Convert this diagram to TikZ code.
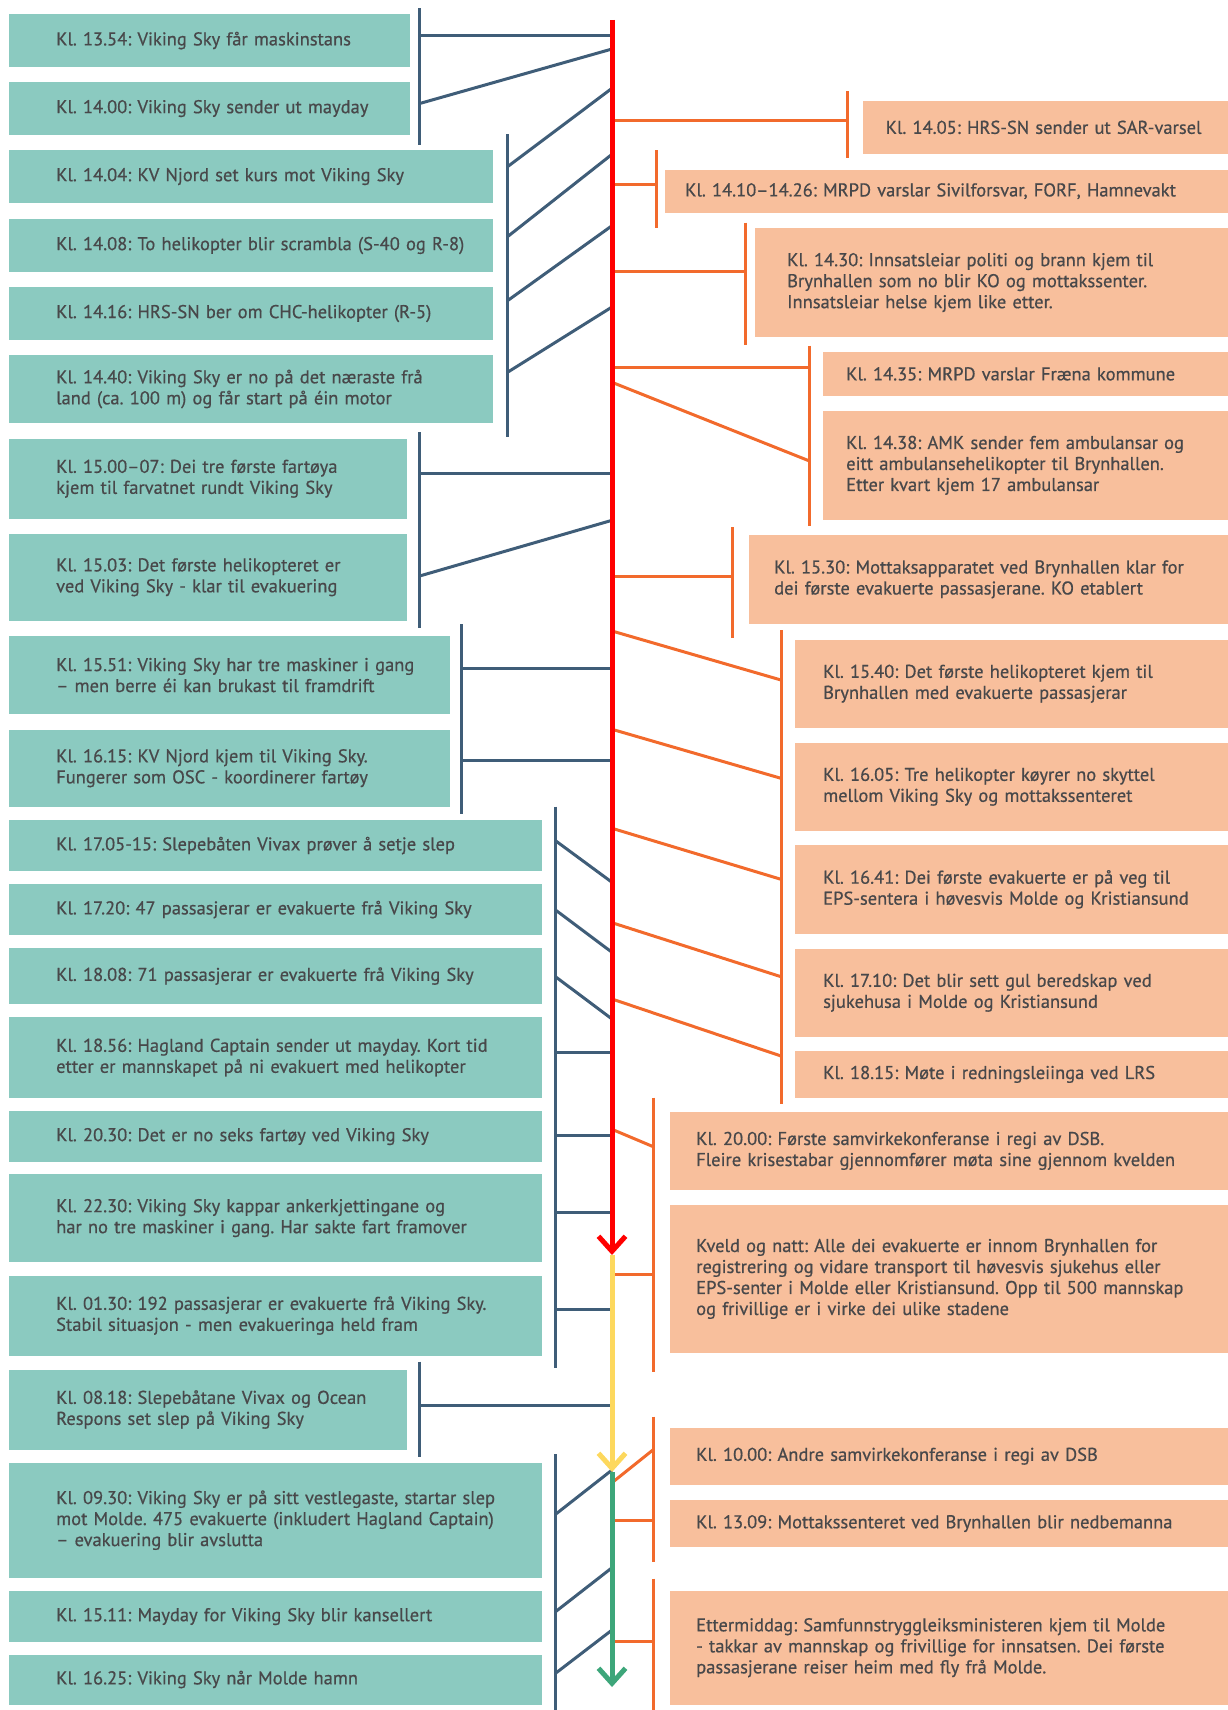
\documentclass[tikz,border=0pt]{standalone}
\usepackage{fontspec}
\setmainfont[FakeBold=0.6]{PT Sans}
\usetikzlibrary{arrows.meta}

\definecolor{shipfill}{HTML}{8BCAC0}
\definecolor{landfill}{HTML}{F8BF9C}
\definecolor{shipblue}{HTML}{3F5D78}
\definecolor{landorange}{HTML}{F26A2C}
\definecolor{ink}{HTML}{48484A}
\definecolor{timered}{HTML}{FF0000}
\definecolor{timeyellow}{HTML}{FDD85D}
\definecolor{timegreen}{HTML}{3DA67A}

\tikzstyle{eventbox}=[anchor=north west, inner sep=0pt, align=left, text=ink, font=\fontsize{18.5}{21}\selectfont\frenchspacing]
\tikzstyle{shipbox}=[eventbox, fill=shipfill, execute at begin node={\leftskip=47pt\relax}]
\tikzstyle{landbox}=[eventbox, fill=landfill]
\tikzstyle{shipline}=[draw=shipblue, line width=3pt]
\tikzstyle{landline}=[draw=landorange, line width=3pt]
\tikzstyle{timeline}=[line width=5pt, -{Straight Barb[length=15pt,width=27pt]}]

% ship side: name, top, bottom, right edge, text
\newcommand{\shipevent}[5]{
\pgfmathsetmacro{\bw}{#4-9}
\pgfmathsetmacro{\bh}{#3-#2}
\node[shipbox, text width=\bw pt, minimum height=\bh pt] (#1) at (9,#2) {#5};
}
% land side: name, left edge, top, bottom, text indent, text
\newcommand{\landevent}[6]{
\pgfmathsetmacro{\bw}{1228-#2}
\pgfmathsetmacro{\bh}{#4-#3}
\node[landbox, text width=\bw pt, minimum height=\bh pt, execute at begin node={\leftskip=#5pt\relax}] (#1) at (#2,#3) {#6};
}

\begin{document}
\begin{tikzpicture}[x=1pt,y=-1pt]
\useasboundingbox (0,0) rectangle (1228,1710);

% events at sea
\shipevent{e1354}{14}{66.7}{410}{Kl. 13.54: Viking Sky får maskinstans}
\shipevent{e1400}{82}{134.7}{410}{Kl. 14.00: Viking Sky sender ut mayday}
\shipevent{e1404}{150}{202.7}{492.5}{Kl. 14.04: KV Njord set kurs mot Viking Sky}
\shipevent{e1408}{219}{271.7}{492.5}{Kl. 14.08: To helikopter blir scrambla (S-40 og R-8)}
\shipevent{e1416}{287}{339.7}{492.5}{Kl. 14.16: HRS-SN ber om CHC-helikopter (R-5)}
\shipevent{e1440}{355}{422.7}{492.5}{Kl. 14.40: Viking Sky er no på det næraste frå\\land (ca. 100 m) og får start på éin motor}
\shipevent{e1500}{438.3}{518.7}{407}{Kl. 15.00–07: Dei tre første fartøya\\kjem til farvatnet rundt Viking Sky}
\shipevent{e1503}{533.3}{620.7}{407}{Kl. 15.03: Det første helikopteret er\\ved Viking Sky - klar til evakuering}
\shipevent{e1551}{636}{713.7}{450}{Kl. 15.51: Viking Sky har tre maskiner i gang\\– men berre éi kan brukast til framdrift}
\shipevent{e1615}{729.3}{806.7}{450}{Kl. 16.15: KV Njord kjem til Viking Sky.\\Fungerer som OSC - koordinerer fartøy}
\shipevent{e1705}{820}{870.7}{541.5}{Kl. 17.05-15: Slepebåten Vivax prøver å setje slep}
\shipevent{e1720}{884}{934.7}{541.5}{Kl. 17.20: 47 passasjerar er evakuerte frå Viking Sky}
\shipevent{e1808}{948}{1003.7}{541.5}{Kl. 18.08: 71 passasjerar er evakuerte frå Viking Sky}
\shipevent{e1856}{1017}{1097.7}{541.5}{Kl. 18.56: Hagland Captain sender ut mayday. Kort tid\\etter er mannskapet på ni evakuert med helikopter}
\shipevent{e2030}{1111}{1161.7}{541.5}{Kl. 20.30: Det er no seks fartøy ved Viking Sky}
\shipevent{e2230}{1174}{1261.7}{541.5}{Kl. 22.30: Viking Sky kappar ankerkjettingane og\\har no tre maskiner i gang. Har sakte fart framover}
\shipevent{e0130}{1275.3}{1355.3}{541.5}{Kl. 01.30: 192 passasjerar er evakuerte frå Viking Sky.\\Stabil situasjon - men evakueringa held fram}
\shipevent{e0818}{1369.3}{1449.3}{407}{Kl. 08.18: Slepebåtane Vivax og Ocean\\Respons set slep på Viking Sky}
\shipevent{e0930}{1462.3}{1577.7}{541.5}{Kl. 09.30: Viking Sky er på sitt vestlegaste, startar slep\\mot Molde. 475 evakuerte (inkludert Hagland Captain)\\– evakuering blir avslutta}
\shipevent{e1511}{1591}{1641.7}{541.5}{Kl. 15.11: Mayday for Viking Sky blir kansellert}
\shipevent{e1625}{1654.3}{1704.3}{541.5}{Kl. 16.25: Viking Sky når Molde hamn}

% events on land
\landevent{r1405}{863}{101}{153.3}{22.5}{Kl. 14.05: HRS-SN sender ut SAR-varsel}
\landevent{r1410}{665}{169.3}{212.7}{20}{Kl. 14.10–14.26: MRPD varslar Sivilforsvar, FORF, Hamnevakt}
\landevent{r1430}{755}{228}{336.7}{32}{Kl. 14.30: Innsatsleiar politi og brann kjem til\\Brynhallen som no blir KO og mottakssenter.\\Innsatsleiar helse kjem like etter.}
\landevent{r1435}{823}{352}{395.3}{23}{Kl. 14.35: MRPD varslar Fræna kommune}
\landevent{r1438}{823}{411}{519.3}{23}{Kl. 14.38: AMK sender fem ambulansar og\\eitt ambulansehelikopter til Brynhallen.\\Etter kvart kjem 17 ambulansar}
\landevent{r1530}{749}{535}{623.3}{25}{Kl. 15.30: Mottaksapparatet ved Brynhallen klar for\\dei første evakuerte passasjerane. KO etablert}
\landevent{r1540}{795}{639.3}{727.7}{28}{Kl. 15.40: Det første helikopteret kjem til\\Brynhallen med evakuerte passasjerar}
\landevent{r1605}{795}{742.3}{830.7}{28}{Kl. 16.05: Tre helikopter køyrer no skyttel\\mellom Viking Sky og mottakssenteret}
\landevent{r1641}{795}{845}{933.3}{28}{Kl. 16.41: Dei første evakuerte er på veg til\\EPS-sentera i høvesvis Molde og Kristiansund}
\landevent{r1710}{795}{948.3}{1036.7}{28}{Kl. 17.10: Det blir sett gul beredskap ved\\sjukehusa i Molde og Kristiansund}
\landevent{r1815}{795}{1051}{1097.3}{28}{Kl. 18.15: Møte i redningsleiinga ved LRS}
\landevent{r2000}{670}{1112}{1189.3}{26}{Kl. 20.00: Første samvirkekonferanse i regi av DSB.\\Fleire krisestabar gjennomfører møta sine gjennom kvelden}
\landevent{rkveld}{670}{1205}{1352.3}{26}{Kveld og natt: Alle dei evakuerte er innom Brynhallen for\\registrering og vidare transport til høvesvis sjukehus eller\\EPS-senter i Molde eller Kristiansund. Opp til 500 mannskap\\og frivillige er i virke dei ulike stadene}
\landevent{r1000}{670}{1427.3}{1484.7}{26}{Kl. 10.00: Andre samvirkekonferanse i regi av DSB}
\landevent{r1309}{670}{1500}{1546.7}{26}{Kl. 13.09: Mottakssenteret ved Brynhallen blir nedbemanna}
\landevent{retter}{670}{1590.7}{1704.3}{26}{Ettermiddag: Samfunnstryggleiksministeren kjem til Molde\\- takkar av mannskap og frivillige for innsatsen. Dei første\\passasjerane reiser heim med fly frå Molde.}

% brackets
\foreach \bx/\ta/\tb in {419/8.3/145.3, 507.5/134/437.3, 419.6/432.3/628.3, 461/624/814, 555.5/806.7/1368.3, 419.6/1361.7/1456.7, 555.5/1454/1710}
  \draw[shipline] (\bx,\ta) -- (\bx,\tb);
\foreach \bx/\ta/\tb in {847/91/158.3, 656/150/227.7, 745/222.7/345, 809.5/345.7/526, 732.6/527.3/638.3, 781/630/1104.3, 653.3/1097.7/1371.7, 653.7/1416.7/1562.3, 653.7/1578.7/1710}
  \draw[landline] (\bx,\ta) -- (\bx,\tb);

% links to the time line
\foreach \k/\bx/\by/\sy in {1/419/35.7/35.7, 2/419/103.7/49, 3/507.5/166.7/88.3, 4/507.5/236.7/154.3, 5/507.5/300.7/225.7, 6/507.5/372.3/307, 7/419.6/473.3/473.3, 8/419.6/576/520.3, 9/461/668.3/668.3, 10/461/760.7/760.7, 11/555.5/840.7/882.3, 12/555.5/910/952.3, 13/555.5/976.7/1019, 14/555.5/1052.3/1052.3, 15/555.5/1135.7/1135.7, 16/555.5/1212.7/1212.7, 17/555.5/1309.3/1309.3, 18/419.6/1405.7/1405.7, 19/555.5/1514.3/1470, 20/555.5/1611.7/1567.7, 21/555.5/1673.3/1630} {
  \coordinate (sb\k) at (\bx,\by);
  \coordinate (st\k) at (612,\sy);
  \draw[shipline] (sb\k) -- (st\k);
}
\foreach \k/\bx/\by/\sy in {1/847/120/120, 2/656/184.3/184.3, 3/745/271.7/271.7, 4/809.5/367.3/367.3, 5/809.5/461/382.3, 6/732.6/576/576, 7/781/680/631, 8/781/778.3/729.3, 9/781/879.3/828.3, 10/781/976.7/922.7, 11/781/1056/999, 12/653.3/1146.7/1129.3, 13/653.3/1274.3/1274.3, 14/653.7/1449.3/1482.7, 15/653.7/1520.3/1520.3, 16/653.7/1641.7/1641.7} {
  \coordinate (lb\k) at (\bx,\by);
  \coordinate (lt\k) at (612,\sy);
  \draw[landline] (lt\k) -- (lb\k);
}

% time line: day, night, next day
\coordinate (tstart) at (612,20);
\coordinate (tnight) at (612,1255);
\coordinate (tmorning) at (612,1472);
\coordinate (tend) at (612,1687);
\draw[timeline, timered] (tstart) -- (tnight);
\draw[timeline, timeyellow] (tnight) -- (tmorning);
\draw[timeline, timegreen] (tmorning) -- (tend);
\end{tikzpicture}
\end{document}
